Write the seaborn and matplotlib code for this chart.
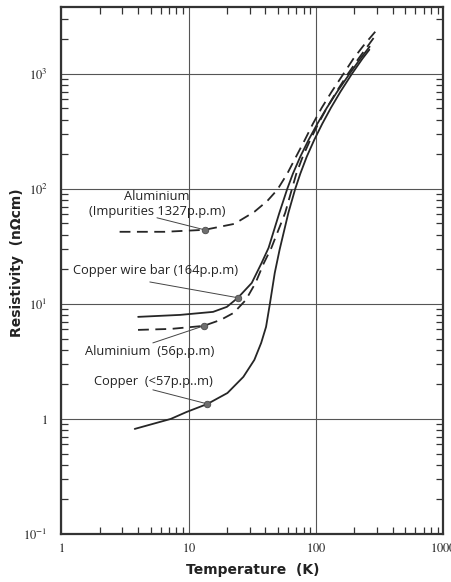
import matplotlib
matplotlib.use("Agg")
import matplotlib.pyplot as plt
from matplotlib import ticker
import pandas as pd
import seaborn as sns

# Temperature (K) and resistivity (nΩ·cm) for each conductor
al1327_T = [2.86, 6.46, 13.3, 22.8, 32.7, 41.4, 49.5, 59.2, 69.5, 81.6, 94.2,
            110.6, 132.2, 164, 196, 235, 291]
al1327_rho = [42.3, 42.3, 44.0, 49.6, 63.1, 78.6, 98.0, 135, 190, 267, 367,
              506, 697, 1000, 1350, 1752, 2318]

al56_T = [3.99, 7.24, 13.1, 17.8, 22.5, 28.0, 33.4, 38.6, 44.5, 57.1, 64.6,
          69.8, 78.4, 90.0, 103.8, 121.5, 144.2, 177.8, 214.7, 255.4, 291.1]
al56_rho = [5.94, 6.06, 6.44, 7.26, 8.35, 10.8, 15.2, 22.3, 30.7, 61.8, 100,
            135, 190, 267, 367, 506, 697, 1000, 1350, 1752, 2140]

cu164_T = [4.0, 8.54, 15.5, 19.9, 24.3, 31.2, 37.3, 42.3, 51.4, 59.3, 65.6,
           75.0, 87.3, 102.1, 121.3, 146.1, 183.1, 222.2, 263.0]
cu164_rho = [7.71, 8.02, 8.52, 9.42, 11.3, 15.2, 22.7, 30.7, 61.8, 100, 135,
             190, 267, 367, 506, 697, 1000, 1350, 1718]

cu57_T = [3.76, 7.21, 9.61, 14.0, 20.1, 26.8, 32.7, 37.0, 40.4, 43.3, 47.3,
          51.6, 60.5, 68.5, 75.0, 84.3, 96.7, 111.6, 130.6, 155.0, 191.1,
          230.7, 261.6]
cu57_rho = [0.819, 1.0, 1.15, 1.35, 1.68, 2.32, 3.26, 4.58, 6.31, 10, 18.6,
            29.5, 61.8, 100, 135, 190, 267, 367, 506, 697, 1000, 1350, 1617]

# Labelled points on each curve
mark_T = [13.3, 24.3, 13.1, 14.0]
mark_rho = [44.0, 11.3, 6.44, 1.35]

labels = ["Aluminium\n(Impurities 1327p.p.m)", "Copper wire bar (164p.p.m)",
          "Aluminium  (56p.p.m)", "Copper  (<57p.p..m)"]
label_T = [5.61, 5.51, 4.94, 5.31]
label_rho = [74, 19.4, 3.83, 2.1]
leader_T = [5.62, 4.94, 5.22, 5.22]
leader_rho = [56, 15.5, 4.58, 1.79]

x_ticks = [1, 10, 100, 1000]
x_ticklabels = ["$1$", "$10$", "$100$", "$1000$"]
y_ticks = [0.1, 1, 10, 100, 1000]
y_ticklabels = ["$10^{-1}$", "$1$", "$10^{1}$", "$10^{2}$", "$10^{3}$"]

sns.set_theme(style="white")
plt.rcParams["font.family"] = ["DejaVu Sans"]
plt.rcParams["mathtext.fontset"] = "stix"

fig = plt.figure(figsize=(4.52, 5.82), dpi=100)
ax = fig.add_axes([61.5 / 452, 1 - 534 / 582, 382 / 452, 527 / 582])
ax.set_xscale("log")
ax.set_yscale("log")

line_color = "#262626"
dash = (0, (6.0, 3.6))
curves = [
    (al1327_T, al1327_rho, dash),
    (al56_T, al56_rho, dash),
    (cu164_T, cu164_rho, "-"),
    (cu57_T, cu57_rho, "-"),
]
for T, rho, ls in curves:
    df = pd.DataFrame({"T": T, "rho": rho})
    sns.lineplot(data=df, x="T", y="rho", ax=ax, color=line_color, lw=1.3,
                 linestyle=ls, estimator=None, sort=False)

# leader lines from labels to the marked points
for lt, lr, mt, mr in zip(leader_T, leader_rho, mark_T, mark_rho):
    ax.annotate("", xy=(mt, mr), xytext=(lt, lr),
                arrowprops=dict(arrowstyle="-", lw=0.7, color="#444444",
                                shrinkA=0, shrinkB=0))

sns.scatterplot(x=mark_T, y=mark_rho, ax=ax, s=22, color="#6e6e6e",
                edgecolor="#4a4a4a", linewidth=0.6, zorder=5)

for txt, t, r in zip(labels, label_T, label_rho):
    ax.text(t, r, txt, ha="center", va="center", fontsize=9.3,
            family=["Open Sans", "DejaVu Sans"], color="#222222",
            linespacing=1.15)

ax.set_xlim(1, 1000)
ax.set_ylim(0.1, 10 ** 3.58)

ax.xaxis.set_major_locator(ticker.FixedLocator(x_ticks))
ax.xaxis.set_major_formatter(ticker.FixedFormatter(x_ticklabels))
ax.yaxis.set_major_locator(ticker.FixedLocator(y_ticks))
ax.yaxis.set_major_formatter(ticker.FixedFormatter(y_ticklabels))
ax.xaxis.set_minor_locator(ticker.LogLocator(base=10, subs=range(2, 10), numticks=20))
ax.yaxis.set_minor_locator(ticker.LogLocator(base=10, subs=range(2, 10), numticks=20))
ax.xaxis.set_minor_formatter(ticker.NullFormatter())
ax.yaxis.set_minor_formatter(ticker.NullFormatter())

ax.tick_params(which="major", length=0, labelsize=9, colors="#222222")
ax.tick_params(axis="y", which="major", pad=10)
ax.tick_params(axis="x", which="major", pad=6)
ax.tick_params(which="minor", direction="in", length=5, width=0.9,
               color="#333333", top=True, right=True, left=True, bottom=True)

ax.grid(which="major", color="#555555", lw=0.8)
ax.grid(which="minor", visible=False)
for sp in ax.spines.values():
    sp.set_visible(True)
    sp.set_linewidth(1.6)
    sp.set_color("#333333")

ax.set_xlabel("Temperature  (K)", fontsize=10, fontweight="bold",
              color="#222222", va="center")
ax.xaxis.set_label_coords(0.5, (534 - 570) / 527)
ax.set_ylabel("Resistivity  (n\u03a9cm)", fontsize=10, fontweight="bold",
              color="#222222", va="center")
ax.yaxis.set_label_coords((17 - 61.5) / 382, 0.515)

fig.savefig("out.png", dpi=100, facecolor="white")
